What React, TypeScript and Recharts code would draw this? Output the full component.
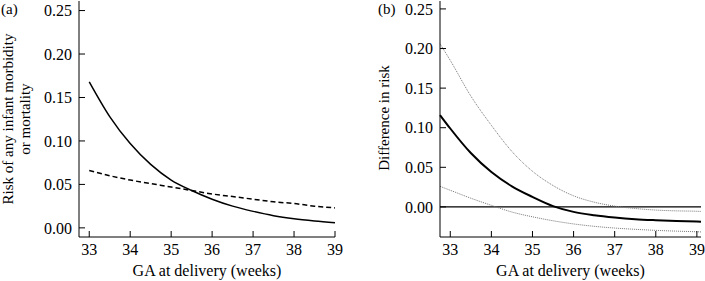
import { LineChart, Line, XAxis, YAxis, ReferenceLine } from 'recharts';

const FONT = '"Liberation Serif", "Times New Roman", serif';

// panel (a): estimated risk by gestational age at delivery
const weeksA = [33, 33.5, 34, 34.5, 35, 35.5, 36, 36.5, 37, 37.5, 38, 38.5, 39];
const riskDelivery = [0.168, 0.128, 0.097, 0.073, 0.055, 0.043, 0.033, 0.025, 0.019, 0.014, 0.0105, 0.008, 0.006];
const riskExpectant = [0.066, 0.06, 0.055, 0.051, 0.047, 0.043, 0.039, 0.036, 0.033, 0.03, 0.028, 0.025, 0.023];

// panel (b): difference in risk with confidence band
const weeksB = [32.75, 33, 33.5, 34, 34.5, 35, 35.5, 36, 36.5, 37, 37.5, 38, 38.5, 39, 39.1];
const riskDiff = [0.116, 0.099, 0.068, 0.044, 0.026, 0.0126, 0.001, -0.0063, -0.0105, -0.0134, -0.0155, -0.0168, -0.0178, -0.0185, -0.0186];
const diffUpper = [0.206, 0.185, 0.14, 0.103, 0.07, 0.045, 0.027, 0.014, 0.006, 0.001, -0.002, -0.004, -0.005, -0.0055, -0.0057];
const diffLower = [0.026, 0.021, 0.011, 0.002, -0.0065, -0.0125, -0.0175, -0.0215, -0.0245, -0.0267, -0.0283, -0.0296, -0.0306, -0.0314, -0.0316];

const weekTicks = [33, 34, 35, 36, 37, 38, 39];
const riskTicks = [0, 0.05, 0.1, 0.15, 0.2, 0.25];

const dataA = weeksA.map((x, i) => ({ x, delivery: riskDelivery[i], expectant: riskExpectant[i] }));
const dataB = weeksB.map((x, i) => ({ x, diff: riskDiff[i], upper: diffUpper[i], lower: diffLower[i] }));

const tickStyle = { fill: '#000', fontSize: 16, fontFamily: FONT };
const fmt = (v: number) => v.toFixed(2);

const PanelALabel = () => (
  <g fontFamily={FONT} fontSize={15} fill="#000">
    <text x={1} y={14}>(a)</text>
    <text transform="translate(0,119) rotate(-90)" textAnchor="middle">
      <tspan x={0} y={13}>Risk of any infant morbidity</tspan>
      <tspan x={0} y={30}>or mortality</tspan>
    </text>
  </g>
);

const PanelBLabel = () => (
  <g fontFamily={FONT} fontSize={15} fill="#000">
    <text x={23} y={14}>(b)</text>
    <text transform="translate(0,118) rotate(-90)" textAnchor="middle">
      <tspan x={0} y={34}>Difference in risk</tspan>
    </text>
  </g>
);

const XTitle = (props: any) => {
  const { viewBox } = props;
  return (
    <text
      x={viewBox.x + viewBox.width / 2}
      y={276}
      textAnchor="middle"
      fontFamily={FONT}
      fontSize={16}
      fill="#000"
    >
      GA at delivery (weeks)
    </text>
  );
};

export default function App() {
  return (
    <div style={{ position: 'absolute', left: 0, top: 0, width: 705, height: 281, background: '#fff', fontFamily: FONT }}>
      <div style={{ position: 'absolute', left: 0, top: 0 }}>
        <LineChart width={355} height={281} data={dataA} margin={{ top: 1, right: 20, bottom: 0, left: 0 }}>
          <XAxis
            dataKey="x"
            type="number"
            domain={[32.75, 39]}
            ticks={weekTicks}
            height={44}
            tickSize={-6}
            tickMargin={13}
            stroke="#000"
            tick={tickStyle}
            label={<XTitle />}
          />
          <YAxis
            type="number"
            domain={[-0.0105, 0.261]}
            ticks={riskTicks}
            width={79}
            tickSize={-6}
            tickMargin={13}
            stroke="#000"
            tick={tickStyle}
            tickFormatter={fmt}
            label={<PanelALabel />}
          />
          <Line type="monotone" dataKey="delivery" stroke="#000" strokeWidth={1.5} dot={false} isAnimationActive={false} />
          <Line type="monotone" dataKey="expectant" stroke="#000" strokeWidth={1.5} strokeDasharray="5 3" dot={false} isAnimationActive={false} />
        </LineChart>
      </div>
      <div style={{ position: 'absolute', left: 355, top: 0 }}>
        <LineChart width={350} height={281} data={dataB} margin={{ top: 1, right: 4, bottom: 0, left: 0 }}>
          <XAxis
            dataKey="x"
            type="number"
            domain={[32.75, 39.1]}
            ticks={weekTicks}
            height={44}
            tickSize={-6}
            tickMargin={13}
            stroke="#000"
            tick={tickStyle}
            label={<XTitle />}
          />
          <YAxis
            type="number"
            domain={[-0.038, 0.26]}
            ticks={riskTicks}
            width={85}
            tickSize={-6}
            tickMargin={13}
            stroke="#000"
            tick={tickStyle}
            tickFormatter={fmt}
            label={<PanelBLabel />}
          />
          <ReferenceLine y={0} stroke="#000" strokeWidth={1.3} />
          <Line type="monotone" dataKey="upper" stroke="#777" strokeWidth={1} strokeDasharray="1 1" dot={false} isAnimationActive={false} />
          <Line type="monotone" dataKey="lower" stroke="#777" strokeWidth={1} strokeDasharray="1 1" dot={false} isAnimationActive={false} />
          <Line type="monotone" dataKey="diff" stroke="#000" strokeWidth={2} dot={false} isAnimationActive={false} />
        </LineChart>
      </div>
    </div>
  );
}
